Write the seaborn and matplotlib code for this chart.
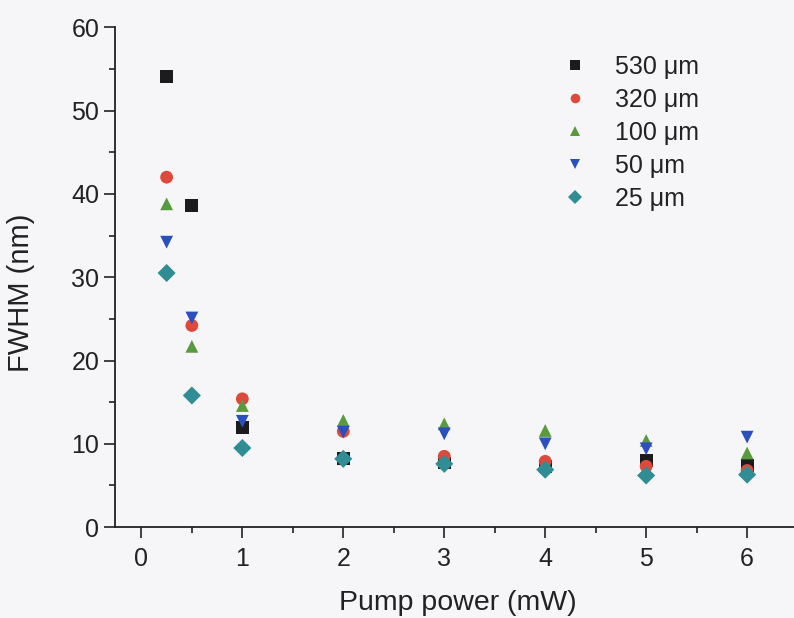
import numpy as np
import pandas as pd
import matplotlib
matplotlib.use("Agg")
import matplotlib.pyplot as plt
import seaborn as sns
from matplotlib.ticker import MultipleLocator

# pump power (mW) and FWHM (nm) for each fibre core size
power = [0.25, 0.5, 1, 2, 3, 4, 5, 6]
fwhm_530 = [54.1, 38.6, 12.0, 8.2, 7.7, 7.3, 8.0, 7.4]
fwhm_320 = [42.0, 24.2, 15.4, 11.5, 8.5, 7.9, 7.3, 6.8]
fwhm_100 = [38.8, 21.7, 14.6, 12.8, 12.4, 11.6, 10.4, 8.9]
fwhm_50 = [34.2, 25.1, 12.7, 11.4, 11.2, 10.0, 9.4, 10.8]
fwhm_25 = [30.5, 15.8, 9.5, 8.2, 7.6, 6.9, 6.2, 6.3]

labels = ["530 \u03bcm", "320 \u03bcm", "100 \u03bcm", "50 \u03bcm", "25 \u03bcm"]
series = [fwhm_530, fwhm_320, fwhm_100, fwhm_50, fwhm_25]

df = pd.concat(
    [pd.DataFrame({"power": power, "fwhm": v, "size": lab}) for lab, v in zip(labels, series)],
    ignore_index=True,
)

colors = ["#1c1c1e", "#dd4a3c", "#5a9a3e", "#2c4fc0", "#2f8d93"]
markers = ["s", "o", "^", "v", "D"]

sns.set_style("ticks")
plt.rcParams["font.family"] = ["Liberation Sans", "DejaVu Sans"]

fig = plt.figure(figsize=(7.94, 6.18), dpi=100, facecolor="#f6f6f8")
ax = fig.add_axes([0.145, 0.147, 0.857, 0.809])
ax.set_facecolor("#f6f6f8")

sns.scatterplot(
    data=df, x="power", y="fwhm", hue="size", style="size",
    hue_order=labels, style_order=labels,
    palette=dict(zip(labels, colors)), markers=dict(zip(labels, markers)),
    s=85, edgecolor="none", linewidth=0, ax=ax,
)

ax.set_xlim(-0.26, 6.48)
ax.set_ylim(0, 60)
ax.xaxis.set_major_locator(MultipleLocator(1))
ax.xaxis.set_minor_locator(MultipleLocator(0.5))
ax.yaxis.set_major_locator(MultipleLocator(10))
ax.yaxis.set_minor_locator(MultipleLocator(5))
ax.tick_params(axis="both", which="major", direction="out", length=8, width=1.2,
               labelsize=18, color="#222222", labelcolor="#222222")
ax.tick_params(axis="x", which="major", pad=6)
ax.tick_params(axis="both", which="minor", direction="out", length=4, width=1.2, color="#222222")
for side in ["top", "right"]:
    ax.spines[side].set_visible(False)
for side in ["left", "bottom"]:
    ax.spines[side].set_linewidth(1.3)
    ax.spines[side].set_color("#222222")

ax.set_xlabel("Pump power (mW)", fontsize=20.5, color="#222222")
ax.set_ylabel("FWHM (nm)", fontsize=21, color="#222222")
ax.xaxis.set_label_coords(0.504, -0.126)
ax.yaxis.set_label_coords(-0.118, 0.468)

leg = ax.legend(loc="upper left", bbox_to_anchor=(0.606, 0.99), frameon=False,
                fontsize=18, handletextpad=0.6, labelspacing=0.36, markerscale=0.75)
for t in leg.get_texts():
    t.set_color("#222222")

fig.savefig("out.png", dpi=100, facecolor=fig.get_facecolor())
